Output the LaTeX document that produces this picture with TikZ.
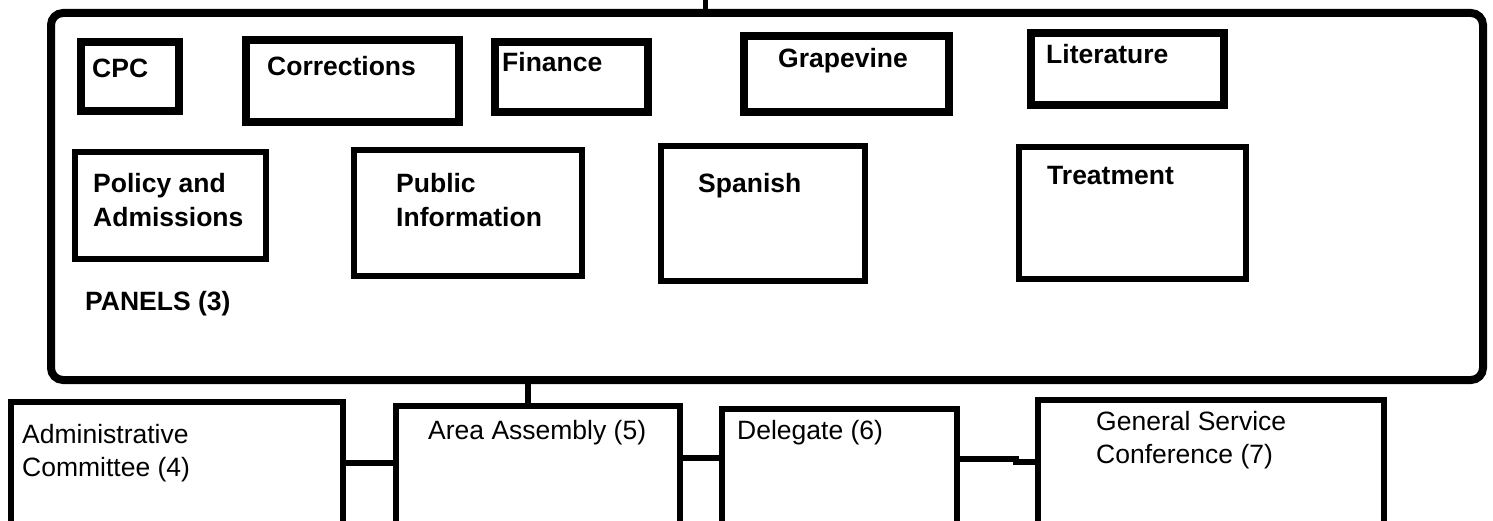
\documentclass[tikz,border=0pt]{standalone}
\usepackage{fontspec}
\setmainfont{Liberation Sans}
\usetikzlibrary{fit}
\begin{document}
\begin{tikzpicture}[x=1pt,y=-1pt,
  thickbox/.style={draw, line width=8pt, inner sep=0pt, outer sep=0pt},
  thinbox/.style={draw, line width=6pt, inner sep=0pt, outer sep=0pt},
  bigframe/.style={draw, line width=8pt, inner sep=0pt, outer sep=0pt, rounded corners=12pt},
  boldlbl/.style={anchor=base west, inner sep=0pt, align=left, font=\bfseries\fontsize{26.5}{34}\selectfont},
  plainlbl/.style={anchor=base west, inner sep=0pt, align=left, font=\fontsize{26.5}{32.5}\selectfont},
  conn/.style={draw, line width=6pt}]
\useasboundingbox (0,0) rectangle (1493,521);
\begin{scope}
\clip (0,0) rectangle (1493,521);
% big frame
\node[bigframe, fit={(51,13) (1483,380)}] (panels) {};
% top row
\node[thickbox, fit={(81,42) (179,111)}] (cpc) {};
\node[thickbox, fit={(246,40) (459,122)}] (corr) {};
\node[thickbox, fit={(495,42) (648,112)}] (fin) {};
\node[thickbox, fit={(744,36) (949,112)}] (grape) {};
\node[thickbox, fit={(1031,33) (1224,105)}] (lit) {};
\node[boldlbl] (cpct) at (92,78) {CPC};
\node[boldlbl] (corrt) at (267,76) {Corrections};
\node[boldlbl] (fint) at (502,72) {Finance};
\node[boldlbl] (grapet) at (778,68) {Grapevine};
\node[boldlbl] (litt) at (1046,64) {Literature};
% second row
\node[thinbox, fit={(75,152) (266,259)}] (pol) {};
\node[thinbox, fit={(354,150) (582,276)}] (pub) {};
\node[thinbox, fit={(661,146) (865,281)}] (spa) {};
\node[thinbox, fit={(1019,147) (1246,279)}] (treat) {};
\node[boldlbl] (polt) at (93,227) {Policy and\\Admissions};
\node[boldlbl] (pubt) at (396,227) {Public\\Information};
\node[boldlbl] (spat) at (698,193) {Spanish};
\node[boldlbl] (treatt) at (1047,185) {Treatment};
\node[boldlbl] (panelst) at (85,310) {PANELS (3)};
% bottom row
\node[thinbox, fit={(11,402) (343,560)}] (adm) {};
\node[thinbox, fit={(396,406) (680,560)}] (area) {};
\node[thinbox, fit={(722,409) (957,560)}] (dele) {};
\node[thinbox, fit={(1038,400) (1384,560)}] (gsc) {};
\node[plainlbl] (admt) at (22,476) {Administrative\\Committee (4)};
\node[plainlbl] (areat) at (428,439) {Area Assembly (5)};
\node[plainlbl] (delet) at (737,439) {Delegate (6)};
\node[plainlbl] (gsct) at (1096,463) {General Service\\Conference (7)};
% connectors
\coordinate (toptick) at (705,0);
\draw[conn, line width=5pt] (toptick) -- (toptick |- panels.north);
\draw[conn] (panels.south -| 528,0) -- (area.north -| 528,0);
\draw[conn] (adm.east |- 0,463) -- (area.west |- 0,463);
\draw[conn] (area.east |- 0,458) -- (dele.west |- 0,458);
\draw[conn] (dele.east |- 0,459) -- (1016,459) -- (1016,462) -- (gsc.west |- 0,462);
\end{scope}
\end{tikzpicture}
\end{document}
